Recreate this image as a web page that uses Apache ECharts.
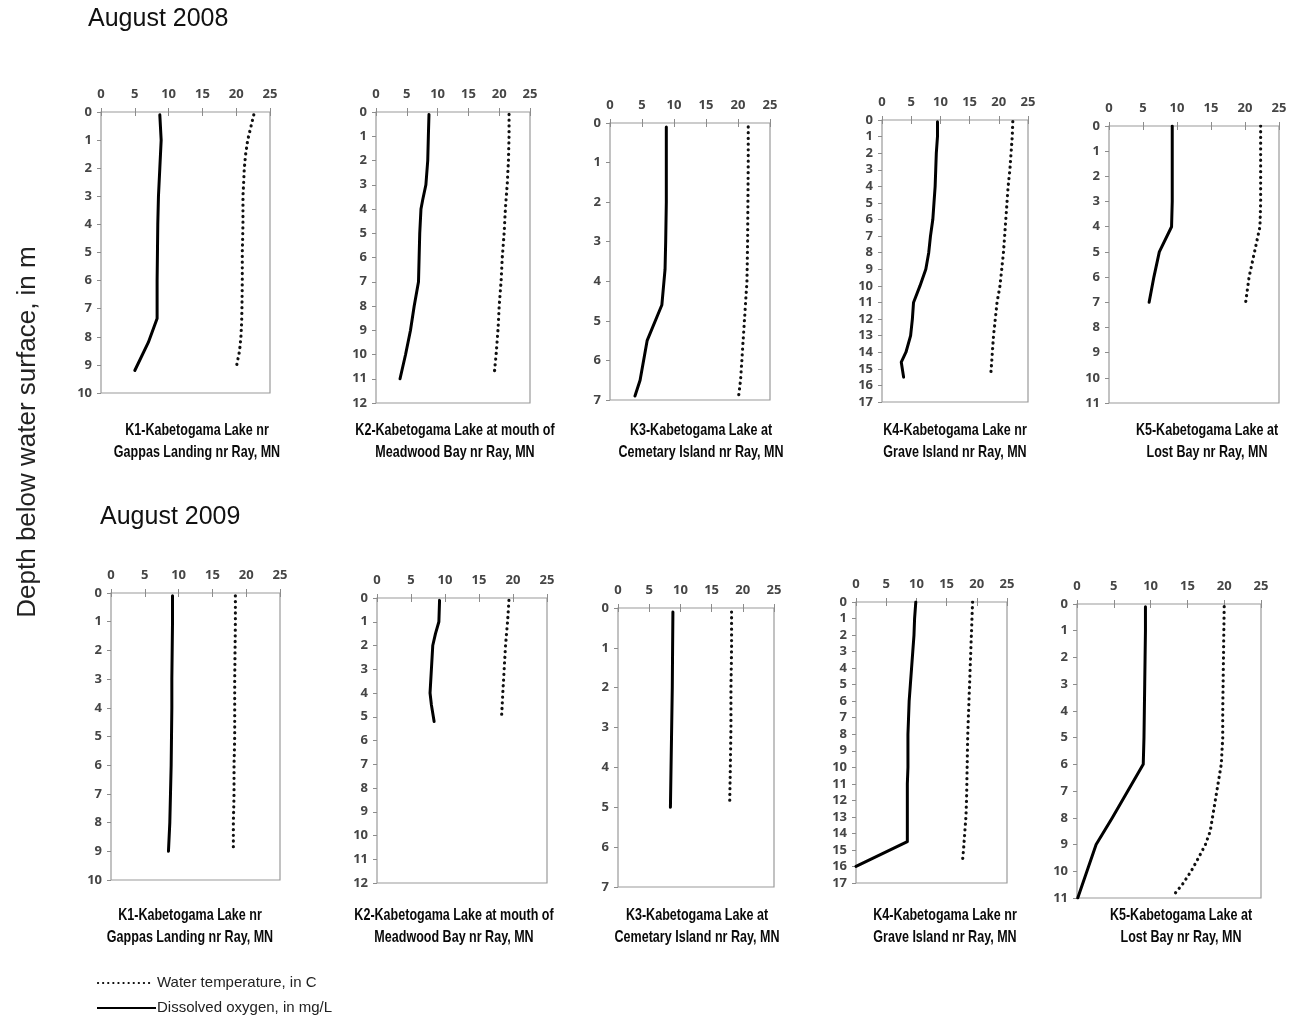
<!DOCTYPE html>
<html><head><meta charset="utf-8">
<script src="https://cdn.jsdelivr.net/npm/echarts@6/dist/echarts.min.js"></script>
<style>html,body{margin:0;padding:0;background:#fff}#chart{width:1305px;height:1025px}</style>
</head><body><div id="chart"></div>
<script>
// ---- Depth profiles, August 2008 (depth in m; temperature in C; DO in mg/L) ----
const K1_2008_T_DEPTH = [0.1, 0.5, 1, 1.5, 2, 3, 4, 5, 6, 7, 7.5, 8, 8.5, 9.1];
const K1_2008_T = [22.6, 22.2, 21.7, 21.4, 21.2, 21.0, 21.0, 20.9, 20.9, 20.85, 20.8, 20.7, 20.5, 20.0];
const K1_2008_DO_DEPTH = [0.1, 1, 2, 3, 4, 5, 6, 7, 7.35, 8.2, 9.2];
const K1_2008_DO = [8.7, 8.9, 8.7, 8.5, 8.4, 8.35, 8.3, 8.3, 8.3, 7.0, 5.0];

const K2_2008_T_DEPTH = [0.1, 1, 2, 3, 4, 5, 6, 7, 8, 9, 10, 10.8];
const K2_2008_T = [21.6, 21.6, 21.5, 21.3, 21.0, 20.8, 20.5, 20.3, 20.0, 19.8, 19.5, 19.2];
const K2_2008_DO_DEPTH = [0.1, 1, 2, 3, 3.6, 4, 5, 6, 7, 8, 9, 10, 11];
const K2_2008_DO = [8.6, 8.5, 8.4, 8.1, 7.6, 7.3, 7.1, 7.0, 6.9, 6.2, 5.6, 4.8, 3.9];

const K3_2008_T_DEPTH = [0.1, 1, 2, 3, 4, 4.5, 5, 5.5, 6, 6.5, 6.9];
const K3_2008_T = [21.6, 21.6, 21.55, 21.5, 21.4, 21.2, 21.0, 20.8, 20.6, 20.4, 20.1];
const K3_2008_DO_DEPTH = [0.1, 1, 2, 3, 3.7, 4.6, 5.5, 6.5, 6.9];
const K3_2008_DO = [8.8, 8.8, 8.8, 8.7, 8.6, 8.1, 5.8, 4.7, 3.9];

const K4_2008_T_DEPTH = [0.1, 1, 2, 3, 4, 5, 6, 7, 8, 9, 10, 11, 12, 13, 14, 15, 15.4];
const K4_2008_T = [22.4, 22.3, 22.1, 21.9, 21.6, 21.4, 21.2, 21.0, 20.8, 20.5, 20.2, 19.7, 19.4, 19.1, 18.9, 18.7, 18.6];
const K4_2008_DO_DEPTH = [0.1, 1, 2, 3, 4, 5, 6, 6.5, 7, 8, 9, 10, 11, 12, 13, 14, 14.6, 15.5];
const K4_2008_DO = [9.5, 9.5, 9.3, 9.2, 9.1, 8.9, 8.7, 8.5, 8.3, 8.0, 7.5, 6.5, 5.4, 5.2, 4.9, 4.1, 3.3, 3.7];

const K5_2008_T_DEPTH = [0, 1, 2, 3, 4, 5, 6, 7];
const K5_2008_T = [22.3, 22.3, 22.3, 22.3, 22.2, 21.4, 20.6, 20.1];
const K5_2008_DO_DEPTH = [0, 1, 2, 3, 4, 5, 6, 7];
const K5_2008_DO = [9.3, 9.3, 9.3, 9.3, 9.2, 7.4, 6.6, 5.9];

// ---- Depth profiles, August 2009 ----
const K1_2009_T_DEPTH = [0.1, 1, 2, 3, 4, 5, 6, 7, 8, 9];
const K1_2009_T = [18.4, 18.4, 18.35, 18.3, 18.3, 18.3, 18.2, 18.2, 18.1, 18.1];
const K1_2009_DO_DEPTH = [0.1, 1, 2, 3, 4, 5, 6, 7, 8, 9];
const K1_2009_DO = [9.1, 9.1, 9.05, 9.0, 9.0, 8.95, 8.9, 8.8, 8.7, 8.5];

const K2_2009_T_DEPTH = [0.1, 1, 2, 3, 4, 5.1];
const K2_2009_T = [19.4, 19.2, 18.9, 18.7, 18.5, 18.3];
const K2_2009_DO_DEPTH = [0.1, 1, 1.5, 2, 3, 4, 4.5, 5.2];
const K2_2009_DO = [9.2, 9.1, 8.6, 8.2, 8.0, 7.8, 8.0, 8.4];

const K3_2009_T_DEPTH = [0.1, 1, 2, 3, 4, 4.9];
const K3_2009_T = [18.2, 18.2, 18.1, 18.1, 18.0, 17.9];
const K3_2009_DO_DEPTH = [0.1, 1, 2, 3, 4, 5];
const K3_2009_DO = [8.8, 8.75, 8.7, 8.6, 8.5, 8.4];

const K4_2009_T_DEPTH = [0, 1, 2, 3, 4, 5, 6, 7, 8, 9, 10, 11, 12, 13, 14, 15, 15.8];
const K4_2009_T = [19.3, 19.2, 19.1, 19.0, 18.9, 18.8, 18.7, 18.6, 18.5, 18.45, 18.4, 18.35, 18.3, 18.2, 18.0, 17.8, 17.6];
const K4_2009_DO_DEPTH = [0, 1, 2, 3, 4, 5, 6, 7, 8, 9, 10, 11, 12, 13, 14, 14.5, 16];
const K4_2009_DO = [9.9, 9.7, 9.6, 9.4, 9.2, 9.0, 8.8, 8.7, 8.6, 8.6, 8.6, 8.5, 8.5, 8.5, 8.5, 8.5, 0];

const K5_2009_T_DEPTH = [0.1, 1, 2, 3, 4, 5, 6, 6.5, 7, 7.5, 8, 8.5, 9, 9.5, 10, 10.5, 10.9];
const K5_2009_T = [20.0, 19.95, 19.9, 19.85, 19.8, 19.8, 19.6, 19.3, 19.0, 18.7, 18.4, 18.1, 17.45, 16.5, 15.5, 14.3, 13.1];
const K5_2009_DO_DEPTH = [0.1, 1, 2, 3, 4, 5, 6, 7, 8, 9, 10, 11];
const K5_2009_DO = [9.3, 9.3, 9.25, 9.2, 9.15, 9.1, 9.0, 6.9, 4.8, 2.6, 1.35, 0.1];

// Depth axis extent for each site (same for both years)
const DEPTH_MAX = [10, 12, 7, 17, 11];
const SITE_CAPTIONS = [
  ['K1-Kabetogama Lake nr', 'Gappas Landing nr Ray, MN'],
  ['K2-Kabetogama Lake at mouth of', 'Meadwood Bay nr Ray, MN'],
  ['K3-Kabetogama Lake at', 'Cemetary Island nr Ray, MN'],
  ['K4-Kabetogama Lake nr', 'Grave Island nr Ray, MN'],
  ['K5-Kabetogama Lake at', 'Lost Bay nr Ray, MN']
];
const YEAR_TITLES = ['August 2008', 'August 2009'];
const Y_NAME = 'Depth below water surface, in m';
const LEGEND_TEMP = 'Water temperature, in C';
const LEGEND_DO = 'Dissolved oxygen, in mg/L';

const profiles = [
  [K1_2008_T_DEPTH, K1_2008_T, K1_2008_DO_DEPTH, K1_2008_DO],
  [K2_2008_T_DEPTH, K2_2008_T, K2_2008_DO_DEPTH, K2_2008_DO],
  [K3_2008_T_DEPTH, K3_2008_T, K3_2008_DO_DEPTH, K3_2008_DO],
  [K4_2008_T_DEPTH, K4_2008_T, K4_2008_DO_DEPTH, K4_2008_DO],
  [K5_2008_T_DEPTH, K5_2008_T, K5_2008_DO_DEPTH, K5_2008_DO],
  [K1_2009_T_DEPTH, K1_2009_T, K1_2009_DO_DEPTH, K1_2009_DO],
  [K2_2009_T_DEPTH, K2_2009_T, K2_2009_DO_DEPTH, K2_2009_DO],
  [K3_2009_T_DEPTH, K3_2009_T, K3_2009_DO_DEPTH, K3_2009_DO],
  [K4_2009_T_DEPTH, K4_2009_T, K4_2009_DO_DEPTH, K4_2009_DO],
  [K5_2009_T_DEPTH, K5_2009_T, K5_2009_DO_DEPTH, K5_2009_DO]
];

// Plot-box placement [left, top, width, height] and caption centres
const boxes = [
  [101, 112, 169, 281], [376, 112, 154, 291], [610, 123, 160, 277], [882, 120, 146, 282], [1109, 126, 170, 277],
  [111, 593, 169, 287], [377, 598, 170, 285], [618, 608, 156, 279], [856, 602, 151, 281], [1077, 604, 184, 294]
];
const captionX = [197, 455, 701, 955, 1207, 190, 454, 697, 945, 1181];
const captionY = [430, 915];

const tickFont = { fontSize: 13, color: '#454545', fontWeight: 'bold', fontFamily: 'Open Sans, Lato, sans-serif' };
const tickLine = { color: '#8c8c8c', width: 1 };

const grid = [], xAxis = [], yAxis = [], series = [], graphic = [];

profiles.forEach((p, i) => {
  const b = boxes[i];
  const dmax = DEPTH_MAX[i % 5];
  grid.push({ left: b[0], top: b[1], width: b[2], height: b[3], show: true,
    borderColor: '#9a9a9a', borderWidth: 1.2, backgroundColor: 'transparent' });
  const xBase = { gridIndex: i, type: 'value', min: 0, max: 25, interval: 5,
    axisLine: { show: false }, splitLine: { show: false },
    axisTick: { inside: true, length: 4, lineStyle: tickLine } };
  xAxis.push(Object.assign({}, xBase, { position: 'top', axisLabel: Object.assign({ margin: 11 }, tickFont) }));
  xAxis.push(Object.assign({}, xBase, { position: 'bottom', axisLabel: { show: false } }));
  const yBase = { gridIndex: i, type: 'value', inverse: true, min: 0, max: dmax, interval: 1,
    axisLine: { show: false }, splitLine: { show: false } };
  yAxis.push(Object.assign({}, yBase, { position: 'left', axisTick: { show: false },
    axisLabel: Object.assign({ margin: 9 }, tickFont) }));
  yAxis.push(Object.assign({}, yBase, { position: 'right', axisLabel: { show: false },
    axisTick: { inside: true, length: 4, lineStyle: tickLine } }));

  const [td, tv, dd, dv] = p;
  series.push({ type: 'line', name: LEGEND_TEMP, xAxisIndex: 2 * i, yAxisIndex: 2 * i,
    symbol: 'none', silent: true, animation: false,
    data: td.map((d, k) => [tv[k], d]),
    lineStyle: { color: '#111', width: 3.2, type: [0.1, 5.6], cap: 'round' } });
  series.push({ type: 'line', name: LEGEND_DO, xAxisIndex: 2 * i, yAxisIndex: 2 * i,
    symbol: 'none', silent: true, animation: false,
    data: dd.map((d, k) => [dv[k], d]),
    lineStyle: { color: '#000', width: 3, join: 'round', cap: 'round' } });

  // two-line site caption, condensed bold
  const cap = SITE_CAPTIONS[i % 5];
  const cy = captionY[Math.floor(i / 5)];
  cap.forEach((line, li) => {
    graphic.push({ type: 'text', x: captionX[i], y: cy + li * 22, scaleX: 0.76, silent: true,
      style: { text: line, textAlign: 'center', textVerticalAlign: 'middle',
        font: 'bold 16.5px "Liberation Sans", Arial, sans-serif', fill: '#0a0a0a' } });
  });
});

// year headings
graphic.push({ type: 'text', x: 88, y: 19, silent: true,
  style: { text: YEAR_TITLES[0], textVerticalAlign: 'middle', font: '25px "Liberation Sans", Arial, sans-serif', fill: '#111' } });
graphic.push({ type: 'text', x: 100, y: 517, silent: true,
  style: { text: YEAR_TITLES[1], textVerticalAlign: 'middle', font: '25px "Liberation Sans", Arial, sans-serif', fill: '#111' } });
// shared depth axis name
graphic.push({ type: 'text', x: 28, y: 432, rotation: Math.PI / 2, silent: true,
  style: { text: Y_NAME, textAlign: 'center', textVerticalAlign: 'middle', font: '26px "Liberation Sans", Arial, sans-serif', fill: '#222' } });
// legend
graphic.push({ type: 'line', silent: true, shape: { x1: 98, y1: 983, x2: 154, y2: 983 },
  style: { stroke: '#000', lineWidth: 2.2, lineDash: [0.1, 5], lineCap: 'round' } });
graphic.push({ type: 'text', x: 157, y: 983, silent: true,
  style: { text: LEGEND_TEMP, textVerticalAlign: 'middle', font: '15px "Liberation Sans", Arial, sans-serif', fill: '#222' } });
graphic.push({ type: 'line', silent: true, shape: { x1: 97, y1: 1008, x2: 156, y2: 1008 },
  style: { stroke: '#000', lineWidth: 2.2 } });
graphic.push({ type: 'text', x: 157, y: 1008, silent: true,
  style: { text: LEGEND_DO, textVerticalAlign: 'middle', font: '15px "Liberation Sans", Arial, sans-serif', fill: '#222' } });

const chart = echarts.init(document.getElementById('chart'), null, { renderer: 'canvas' });
chart.setOption({ animation: false, backgroundColor: '#fff', grid, xAxis, yAxis, series, graphic });
</script></body></html>
